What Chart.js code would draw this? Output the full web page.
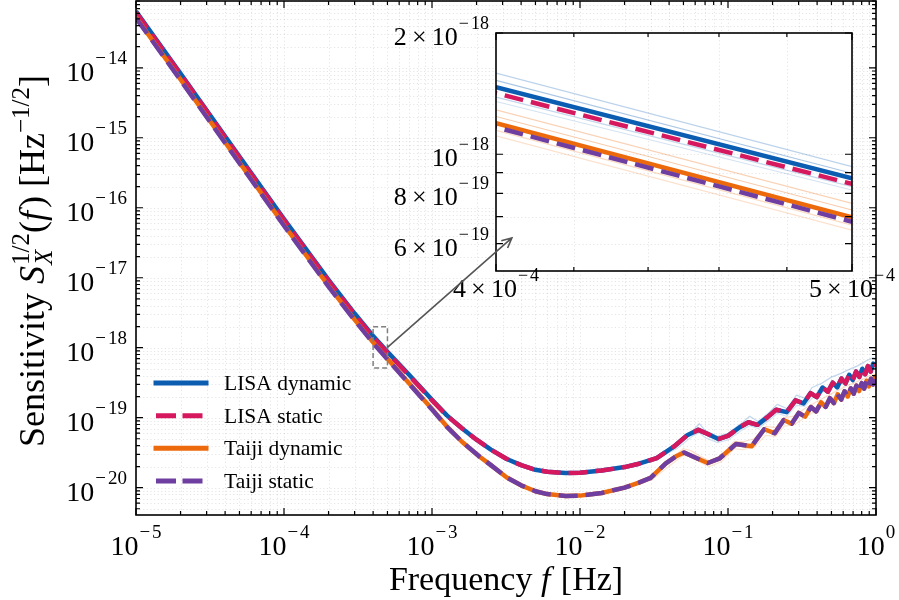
<!DOCTYPE html>
<html>
<head>
<meta charset="utf-8">
<script src="https://cdn.jsdelivr.net/npm/chart.js@4.4.1/dist/chart.umd.min.js"></script>
<style>
  html, body { margin: 0; padding: 0; background: #fff; }
  #wrap { position: relative; width: 899px; height: 600px; }
  #wrap canvas { position: absolute; left: 0; top: 0; }
</style>
</head>
<body>
<div id="wrap">
  <canvas id="main" width="899" height="600"></canvas>
  <canvas id="inset" width="899" height="600"></canvas>
</div>
<script>
// values (frequency in Hz, sensitivity in Hz^-1/2)
const lisaFreq = [1e-5, 2e-5, 5e-5, 1e-4, 2e-4, 3e-4, 4e-4, 5e-4, 7e-4, 1e-3,
  1.26e-3, 1.6e-3, 2e-3, 2.5e-3, 3.2e-3, 4e-3, 5e-3, 6e-3, 8e-3, 1e-2,
  1.4e-2, 2e-2, 2.5e-2, 3.3e-2, 4.3e-2, 5.3e-2, 6.3e-2, 7.3e-2, 8.6e-2, 0.1,
  0.12, 0.1375, 0.158, 0.185, 0.2115, 0.249, 0.286, 0.3235, 0.361, 0.398,
  0.4355, 0.473, 0.51, 0.547, 0.5845, 0.622, 0.659, 0.696, 0.7335, 0.771,
  0.808, 0.845, 0.8825, 0.92, 0.957, 1.0];
const lisaDynamic = [6.4e-14, 8.3e-15, 5.4e-16, 6.9e-17, 9.3e-18, 3.08e-18, 1.468e-18, 8.72e-19, 4.1e-19, 1.8e-19,
  1.08e-19, 7.0e-20, 4.85e-20, 3.5e-20, 2.57e-20, 2.1e-20, 1.8e-20, 1.69e-20, 1.62e-20, 1.64e-20,
  1.76e-20, 1.97e-20, 2.2e-20, 2.65e-20, 3.85e-20, 5.6e-20, 6.7e-20, 5.85e-20, 4.95e-20, 5.5e-20,
  7.3e-20, 8.6e-20, 7.9e-20, 1.02e-19, 1.3e-19, 1.2e-19, 1.77e-19, 1.6e-19, 2.24e-19, 1.97e-19,
  2.7e-19, 2.35e-19, 3.16e-19, 2.71e-19, 3.62e-19, 3.09e-19, 4.09e-19, 3.45e-19, 4.55e-19, 3.82e-19,
  5.01e-19, 4.19e-19, 5.47e-19, 4.56e-19, 5.93e-19, 5.6e-19];
const lisaStatic = [6.2e-14, 8.05e-15, 5.23e-16, 6.68e-17, 9.0e-18, 2.98e-18, 1.418e-18, 8.44e-19, 4.0e-19, 1.77e-19,
  1.07e-19, 7.0e-20, 4.85e-20, 3.5e-20, 2.57e-20, 2.1e-20, 1.8e-20, 1.69e-20, 1.62e-20, 1.64e-20,
  1.76e-20, 1.97e-20, 2.2e-20, 2.65e-20, 3.85e-20, 5.6e-20, 6.7e-20, 5.85e-20, 4.95e-20, 5.5e-20,
  7.3e-20, 8.6e-20, 7.9e-20, 1.02e-19, 1.3e-19, 1.2e-19, 1.77e-19, 1.6e-19, 2.24e-19, 1.97e-19,
  2.7e-19, 2.35e-19, 3.16e-19, 2.71e-19, 3.62e-19, 3.09e-19, 4.09e-19, 3.45e-19, 4.55e-19, 3.82e-19,
  5.01e-19, 4.19e-19, 5.47e-19, 4.56e-19, 5.93e-19, 5.6e-19];

const taijiFreq = [1e-5, 2e-5, 5e-5, 1e-4, 2e-4, 3e-4, 4e-4, 5e-4, 7e-4, 1e-3,
  1.26e-3, 1.6e-3, 2.1e-3, 2.5e-3, 3.2e-3, 4e-3, 5e-3, 6e-3, 8e-3, 1e-2,
  1.4e-2, 2e-2, 2.5e-2, 3e-2, 3.8e-2, 4.5e-2, 5.05e-2, 6.15e-2, 7.3e-2, 8.8e-2,
  0.113, 0.1443, 0.1755, 0.2068, 0.238, 0.2693, 0.3005, 0.3318, 0.363, 0.3943,
  0.4255, 0.4568, 0.488, 0.5193, 0.5505, 0.5818, 0.613, 0.6443, 0.6755, 0.7068,
  0.738, 0.7693, 0.8005, 0.8318, 0.863, 0.8943, 0.9255, 0.9568, 0.988, 1.0];
const taijiDynamic = [5.25e-14, 6.8e-15, 4.43e-16, 5.66e-17, 7.62e-18, 2.52e-18, 1.194e-18, 6.97e-19, 3.1e-19, 1.33e-19,
  7.5e-20, 4.5e-20, 2.77e-20, 2.1e-20, 1.4e-20, 1.08e-20, 8.9e-21, 8.1e-21, 7.62e-21, 7.7e-21,
  8.4e-21, 1.0e-20, 1.18e-20, 1.38e-20, 2.23e-20, 2.84e-20, 3.18e-20, 2.63e-20, 2.25e-20, 2.63e-20,
  4.2e-20, 3.9e-20, 6.84e-20, 6.0e-20, 9.28e-20, 8.2e-20, 1.17e-19, 1.035e-19, 1.42e-19, 1.23e-19,
  1.66e-19, 1.425e-19, 1.9e-19, 1.62e-19, 2.15e-19, 1.815e-19, 2.39e-19, 2.01e-19, 2.63e-19, 2.205e-19,
  2.88e-19, 2.4e-19, 3.12e-19, 2.595e-19, 3.37e-19, 2.79e-19, 3.61e-19, 2.985e-19, 3.85e-19, 3.6e-19];
const taijiStatic = [5.13e-14, 6.64e-15, 4.33e-16, 5.53e-17, 7.45e-18, 2.46e-18, 1.167e-18, 6.8e-19, 3.05e-19, 1.31e-19,
  7.4e-20, 4.5e-20, 2.77e-20, 2.1e-20, 1.4e-20, 1.08e-20, 8.9e-21, 8.1e-21, 7.62e-21, 7.7e-21,
  8.4e-21, 1.0e-20, 1.18e-20, 1.38e-20, 2.23e-20, 2.84e-20, 3.18e-20, 2.63e-20, 2.25e-20, 2.63e-20,
  4.2e-20, 3.9e-20, 6.84e-20, 6.0e-20, 9.28e-20, 8.2e-20, 1.17e-19, 1.035e-19, 1.42e-19, 1.23e-19,
  1.66e-19, 1.425e-19, 1.9e-19, 1.62e-19, 2.15e-19, 1.815e-19, 2.39e-19, 2.01e-19, 2.63e-19, 2.205e-19,
  2.88e-19, 2.4e-19, 3.12e-19, 2.595e-19, 3.37e-19, 2.79e-19, 3.61e-19, 2.985e-19, 3.85e-19, 3.6e-19];

// faint realisation spread visible at high frequency
const lisaSpreadFreq = [0.03, 0.045, 0.058, 0.064, 0.07, 0.085, 0.1, 0.125, 0.14, 0.16, 0.19, 0.215,
  0.25, 0.29, 0.33, 0.37, 0.43, 0.5, 0.58, 0.66, 0.75, 0.85, 0.95, 1.0];
const lisaSpreadUpper = [2.5e-20, 4.3e-20, 6.6e-20, 8.2e-20, 6.6e-20, 5.4e-20, 6.0e-20, 8.5e-20, 1.05e-19, 8.8e-20, 1.2e-19, 1.55e-19,
  1.35e-19, 2.1e-19, 1.9e-19, 2.7e-19, 3.1e-19, 3.8e-19, 4.3e-19, 4.9e-19, 5.5e-19, 6.4e-19, 7.2e-19, 7.0e-19];
const lisaSpreadLower = [2.35e-20, 3.6e-20, 5.5e-20, 6.1e-20, 5.2e-20, 4.4e-20, 4.8e-20, 6.7e-20, 7.7e-20, 7.0e-20, 9.2e-20, 1.15e-19,
  1.05e-19, 1.5e-19, 1.45e-19, 1.9e-19, 2.3e-19, 2.7e-19, 3.1e-19, 3.5e-19, 3.9e-19, 4.5e-19, 5.0e-19, 4.9e-19];
const taijiSpreadFreq = [0.03, 0.042, 0.05, 0.056, 0.065, 0.075, 0.09, 0.11, 0.125, 0.15, 0.18, 0.21,
  0.24, 0.28, 0.33, 0.4, 0.48, 0.56, 0.65, 0.75, 0.85, 0.95, 1.0];
const taijiSpreadUpper = [1.5e-20, 2.7e-20, 3.6e-20, 3.4e-20, 2.8e-20, 2.4e-20, 2.9e-20, 4.6e-20, 4.5e-20, 5.0e-20, 7.5e-20, 7.2e-20,
  1.0e-19, 1.05e-19, 1.35e-19, 1.7e-19, 2.1e-19, 2.5e-19, 2.9e-19, 3.3e-19, 3.7e-19, 4.2e-19, 4.1e-19];
const taijiSpreadLower = [1.25e-20, 2.2e-20, 2.9e-20, 2.8e-20, 2.3e-20, 2.0e-20, 2.35e-20, 3.6e-20, 3.5e-20, 3.8e-20, 5.6e-20, 5.4e-20,
  7.6e-20, 7.9e-20, 1.0e-19, 1.3e-19, 1.6e-19, 1.9e-19, 2.2e-19, 2.5e-19, 2.8e-19, 3.2e-19, 3.1e-19];

// thin realisation curves seen in the zoomed panel (values at 4e-4 and 5e-4 Hz)
const insetFreq = [4e-4, 5e-4];
const lisaRealizations = [[1.59e-18, 9.32e-19], [1.525e-18, 8.97e-19], [1.387e-18, 8.31e-19], [1.352e-18, 8.15e-19]];
const taijiRealizations = [[1.289e-18, 7.55e-19], [1.241e-18, 7.27e-19], [1.146e-18, 6.67e-19], [1.111e-18, 6.48e-19]];

const xTickExps = [-5, -4, -3, -2, -1, 0];
const yTickExps = [-20, -19, -18, -17, -16, -15, -14];
const insetYLabels = [[2, -18], [1, -18], [8, -19], [6, -19]];
const insetXLabels = [[4, -4], [5, -4]];
const insetXMinor = [4.2e-4, 4.4e-4, 4.6e-4, 4.8e-4];

const BLUE = '#0b5db2', PINK = '#d6195f', ORANGE = '#ec6a0c', PURPLE = '#6e3ea0';
const SERIF = '"Liberation Serif", "DejaVu Serif", serif';
const DASH = [19, 8];

function font(size, italic) { return (italic ? 'italic ' : '') + size + 'px ' + SERIF; }
function pts(xs, ys) { return xs.map((x, i) => ({ x, y: ys[i] })); }

function measureParts(ctx, parts) {
  let w = 0;
  for (const p of parts) {
    if (p.stack) {
      w += Math.max(...p.stack.map(q => { ctx.font = font(q.size, q.italic); return ctx.measureText(q.t).width; }));
    } else {
      ctx.font = font(p.size, p.italic);
      w += ctx.measureText(p.t).width + (p.kern || 0);
    }
  }
  return w;
}

function drawParts(ctx, parts, x, y, align) {
  const w = measureParts(ctx, parts);
  let cx = align === 'right' ? x - w : align === 'center' ? x - w / 2 : x;
  ctx.textAlign = 'left';
  ctx.textBaseline = 'alphabetic';
  ctx.fillStyle = '#000';
  for (const p of parts) {
    if (p.stack) {
      let mw = 0;
      for (const q of p.stack) {
        ctx.font = font(q.size, q.italic);
        ctx.fillText(q.t, cx, y + (q.dy || 0));
        mw = Math.max(mw, ctx.measureText(q.t).width);
      }
      cx += mw;
    } else {
      ctx.font = font(p.size, p.italic);
      ctx.fillText(p.t, cx, y + (p.dy || 0));
      cx += ctx.measureText(p.t).width + (p.kern || 0);
    }
  }
}

function powLabel(mant, exp, size) {
  const head = mant === 1 ? '10' : mant + '\u2009×\u200910';
  const sup = Math.round(size * 0.69), dy = -Math.round(size * 0.6);
  const parts = [{ t: head, size, kern: 1 }];
  if (exp < 0) parts.push({ t: '\u2212', size: sup, dy, kern: 2 });
  parts.push({ t: String(Math.abs(exp)), size: sup, dy });
  return parts;
}

function logTicks(min, max) {
  const out = [];
  for (let e = Math.floor(Math.log10(min)); e <= Math.ceil(Math.log10(max)); e++) {
    for (let k = 1; k <= 9; k++) {
      const v = k * Math.pow(10, e);
      if (v >= min * 0.9999 && v <= max * 1.0001) out.push({ v, major: k === 1 });
    }
  }
  return out;
}

function drawGrid(ctx, area, xs, ys, xT, yT) {
  ctx.save();
  ctx.strokeStyle = 'rgba(0,0,0,0.13)';
  ctx.lineWidth = 0.8;
  ctx.setLineDash([1.2, 2.4]);
  ctx.beginPath();
  for (const t of xT) { const px = Math.round(xs.getPixelForValue(t.v)) + 0.5; ctx.moveTo(px, area.top); ctx.lineTo(px, area.bottom); }
  for (const t of yT) { const py = Math.round(ys.getPixelForValue(t.v)) + 0.5; ctx.moveTo(area.left, py); ctx.lineTo(area.right, py); }
  ctx.stroke();
  ctx.restore();
}

function drawFrame(ctx, area, xs, ys, xT, yT, major, minor) {
  ctx.save();
  ctx.strokeStyle = '#000';
  ctx.lineWidth = 1.2;
  ctx.beginPath();
  for (const t of xT) {
    const px = xs.getPixelForValue(t.v), L = t.major ? major : minor;
    ctx.moveTo(px, area.bottom); ctx.lineTo(px, area.bottom - L);
    ctx.moveTo(px, area.top); ctx.lineTo(px, area.top + L);
  }
  for (const t of yT) {
    const py = ys.getPixelForValue(t.v), L = t.major ? major : minor;
    ctx.moveTo(area.left, py); ctx.lineTo(area.left + L, py);
    ctx.moveTo(area.right, py); ctx.lineTo(area.right - L, py);
  }
  ctx.stroke();
  ctx.lineWidth = 1.6;
  ctx.strokeRect(area.left, area.top, area.right - area.left, area.bottom - area.top);
  ctx.restore();
}

const zoomBox = { x0: 4e-4, x1: 5e-4, y0: 5.13e-19, y1: 2e-18 };
const arrowFrom = { x: 5e-4, y: 1.013e-18 };   // main axes
const arrowTo = { x: 4.04e-4, y: 6.2e-19 };     // inset axes

const mainDecor = {
  id: 'mainDecor',
  beforeDraw(chart) {
    const ctx = chart.ctx;
    ctx.save(); ctx.fillStyle = '#fff'; ctx.fillRect(0, 0, chart.width, chart.height); ctx.restore();
  },
  beforeDatasetsDraw(chart) {
    const { ctx, chartArea: a, scales: { x, y } } = chart;
    drawGrid(ctx, a, x, y, logTicks(x.min, x.max), logTicks(y.min, y.max));
  },
  afterDatasetsDraw(chart) {
    const { ctx, chartArea: a, scales: { x, y } } = chart;
    drawFrame(ctx, a, x, y, logTicks(x.min, x.max), logTicks(y.min, y.max), 7, 4);

    for (const e of xTickExps) drawParts(ctx, powLabel(1, e, 28), x.getPixelForValue(Math.pow(10, e)), 555, 'center');
    for (const e of yTickExps) drawParts(ctx, powLabel(1, e, 28), a.left - 9, y.getPixelForValue(Math.pow(10, e)) + 13, 'right');

    drawParts(ctx, [{ t: 'Frequency ', size: 34 }, { t: 'f', size: 34, italic: true, kern: 2 }, { t: ' [Hz]', size: 34 }],
      (a.left + a.right) / 2, 590, 'center');

    ctx.save();
    ctx.translate(44, 261);
    ctx.rotate(-Math.PI / 2);
    drawParts(ctx, [
      { t: 'Sensitivity ', size: 36 },
      { t: 'S', size: 36, italic: true, kern: 1 },
      { stack: [{ t: '1/2', size: 25, dy: -15 }, { t: 'X', size: 25, italic: true, dy: 8 }] },
      { t: '(', size: 36 }, { t: 'f', size: 36, italic: true, kern: 3 }, { t: ')', size: 36 },
      { t: ' [Hz', size: 36 }, { t: '\u22121/2', size: 25, dy: -15 }, { t: ']', size: 36 }
    ], 0, 0, 'center');
    ctx.restore();

    // legend, taken from the four main datasets
    const rows = [383, 415.7, 448.3, 481];
    chart.data.datasets.filter(ds => ds.label).forEach((ds, i) => {
      const ry = rows[i];
      ctx.save();
      ctx.strokeStyle = ds.borderColor;
      ctx.lineWidth = 5;
      if (ds.borderDash) { ctx.setLineDash([20, 6.5]); ctx.lineCap = 'butt'; } else { ctx.lineCap = 'square'; }
      ctx.beginPath(); ctx.moveTo(156, ry); ctx.lineTo(206, ry); ctx.stroke();
      ctx.restore();
      drawParts(ctx, [{ t: ds.label, size: 21.5 }], 224, ry + 7, 'left');
    });

    // zoom region
    ctx.save();
    ctx.strokeStyle = '#808080';
    ctx.lineWidth = 1.5;
    ctx.setLineDash([5, 3]);
    const bx0 = x.getPixelForValue(zoomBox.x0), bx1 = x.getPixelForValue(zoomBox.x1);
    const by0 = y.getPixelForValue(zoomBox.y1), by1 = y.getPixelForValue(zoomBox.y0);
    ctx.strokeRect(bx0, by0, bx1 - bx0, by1 - by0);
    ctx.restore();
  }
};

const faintLine = (xs, ys, color) => ({ label: '', data: pts(xs, ys), borderColor: color, borderWidth: 1.2, order: 10 });

const mainChart = new Chart(document.getElementById('main'), {
  type: 'line',
  data: {
    datasets: [
      { label: 'LISA dynamic', data: pts(lisaFreq, lisaDynamic), borderColor: BLUE, borderWidth: 4.5, order: 3 },
      { label: 'LISA static', data: pts(lisaFreq, lisaStatic), borderColor: PINK, borderWidth: 4.5, borderDash: DASH, order: 2 },
      { label: 'Taiji dynamic', data: pts(taijiFreq, taijiDynamic), borderColor: ORANGE, borderWidth: 4.5, order: 1 },
      { label: 'Taiji static', data: pts(taijiFreq, taijiStatic), borderColor: PURPLE, borderWidth: 4.5, borderDash: DASH, order: 0 },
      faintLine(lisaSpreadFreq, lisaSpreadUpper, 'rgba(11,93,178,0.25)'),
      faintLine(lisaSpreadFreq, lisaSpreadLower, 'rgba(11,93,178,0.18)'),
      faintLine(taijiSpreadFreq, taijiSpreadUpper, 'rgba(236,106,12,0.22)'),
      faintLine(taijiSpreadFreq, taijiSpreadLower, 'rgba(236,106,12,0.18)')
    ]
  },
  options: {
    responsive: false,
    animation: false,
    devicePixelRatio: 1,
    layout: { padding: { left: 0, right: 23, top: 1, bottom: 0 } },
    elements: { point: { radius: 0 }, line: { tension: 0, borderCapStyle: 'butt', borderJoinStyle: 'round', fill: false } },
    plugins: { legend: { display: false }, tooltip: { enabled: false } },
    scales: {
      x: {
        type: 'logarithmic', min: 1e-5, max: 1,
        grid: { display: false }, border: { display: false }, ticks: { display: false },
        afterFit: s => { s.height = 85; }
      },
      y: {
        type: 'logarithmic', min: 4.07e-21, max: 9e-14,
        grid: { display: false }, border: { display: false }, ticks: { display: false },
        afterFit: s => { s.width = 136; }
      }
    }
  },
  plugins: [mainDecor]
});

const insetDecor = {
  id: 'insetDecor',
  beforeDatasetsDraw(chart) {
    const { ctx, chartArea: a, scales: { x, y } } = chart;
    ctx.save(); ctx.fillStyle = '#fff'; ctx.fillRect(a.left, a.top, a.right - a.left, a.bottom - a.top); ctx.restore();
    drawGrid(ctx, a, x, y, insetXMinor.map(v => ({ v })), logTicks(y.min, y.max));
  },
  afterDatasetsDraw(chart) {
    const { ctx, chartArea: a, scales: { x, y } } = chart;
    const xT = insetXLabels.map(([m, e]) => ({ v: m * Math.pow(10, e), major: true }))
      .concat(insetXMinor.map(v => ({ v, major: false })));
    const yT = logTicks(y.min, y.max).map(t => ({ v: t.v, major: true }));
    drawFrame(ctx, a, x, y, xT, yT, 7, 4);

    for (const [m, e] of insetYLabels) drawParts(ctx, powLabel(m, e, 26), a.left - 7, y.getPixelForValue(m * Math.pow(10, e)) + 12, 'right');
    for (const [m, e] of insetXLabels) drawParts(ctx, powLabel(m, e, 26), x.getPixelForValue(m * Math.pow(10, e)), 297, 'center');

    // arrow from the zoom box to the panel
    const mx = mainChart.scales.x, my = mainChart.scales.y;
    const x0 = mx.getPixelForValue(arrowFrom.x), y0 = my.getPixelForValue(arrowFrom.y);
    const x1 = x.getPixelForValue(arrowTo.x), y1 = y.getPixelForValue(arrowTo.y);
    const ang = Math.atan2(y1 - y0, x1 - x0);
    ctx.save();
    ctx.strokeStyle = '#555';
    ctx.lineWidth = 1.6;
    ctx.beginPath();
    ctx.moveTo(x0, y0); ctx.lineTo(x1, y1);
    ctx.moveTo(x1 - 11 * Math.cos(ang - 0.45), y1 - 11 * Math.sin(ang - 0.45));
    ctx.lineTo(x1, y1);
    ctx.lineTo(x1 - 11 * Math.cos(ang + 0.45), y1 - 11 * Math.sin(ang + 0.45));
    ctx.stroke();
    ctx.restore();
  }
};

const lisaFaintColors = ['rgba(11,93,178,0.28)', 'rgba(11,93,178,0.35)', 'rgba(11,93,178,0.25)', 'rgba(11,93,178,0.18)'];
const taijiFaintColors = ['rgba(236,106,12,0.3)', 'rgba(236,106,12,0.35)', 'rgba(236,106,12,0.25)', 'rgba(236,106,12,0.2)'];

new Chart(document.getElementById('inset'), {
  type: 'line',
  data: {
    datasets: [
      ...lisaRealizations.map((r, i) => faintLine(insetFreq, r, lisaFaintColors[i])),
      ...taijiRealizations.map((r, i) => faintLine(insetFreq, r, taijiFaintColors[i])),
      { label: 'LISA dynamic', data: pts(lisaFreq, lisaDynamic), borderColor: BLUE, borderWidth: 4.5, order: 3 },
      { label: 'LISA static', data: pts(lisaFreq, lisaStatic), borderColor: PINK, borderWidth: 4.5, borderDash: DASH, order: 2 },
      { label: 'Taiji dynamic', data: pts(taijiFreq, taijiDynamic), borderColor: ORANGE, borderWidth: 4.5, order: 1 },
      { label: 'Taiji static', data: pts(taijiFreq, taijiStatic), borderColor: PURPLE, borderWidth: 4.5, borderDash: DASH, order: 0 }
    ]
  },
  options: {
    responsive: false,
    animation: false,
    devicePixelRatio: 1,
    layout: { padding: { left: 496, right: 47, top: 33, bottom: 329 } },
    elements: { point: { radius: 0 }, line: { tension: 0, borderCapStyle: 'butt', fill: false } },
    plugins: { legend: { display: false }, tooltip: { enabled: false } },
    scales: {
      x: {
        type: 'logarithmic', min: 4e-4, max: 5e-4,
        grid: { display: false }, border: { display: false }, ticks: { display: false },
        afterFit: s => { s.height = 0; }
      },
      y: {
        type: 'logarithmic', min: 5.13e-19, max: 2e-18,
        grid: { display: false }, border: { display: false }, ticks: { display: false },
        afterFit: s => { s.width = 0; }
      }
    }
  },
  plugins: [insetDecor]
});
</script>
</body>
</html>
